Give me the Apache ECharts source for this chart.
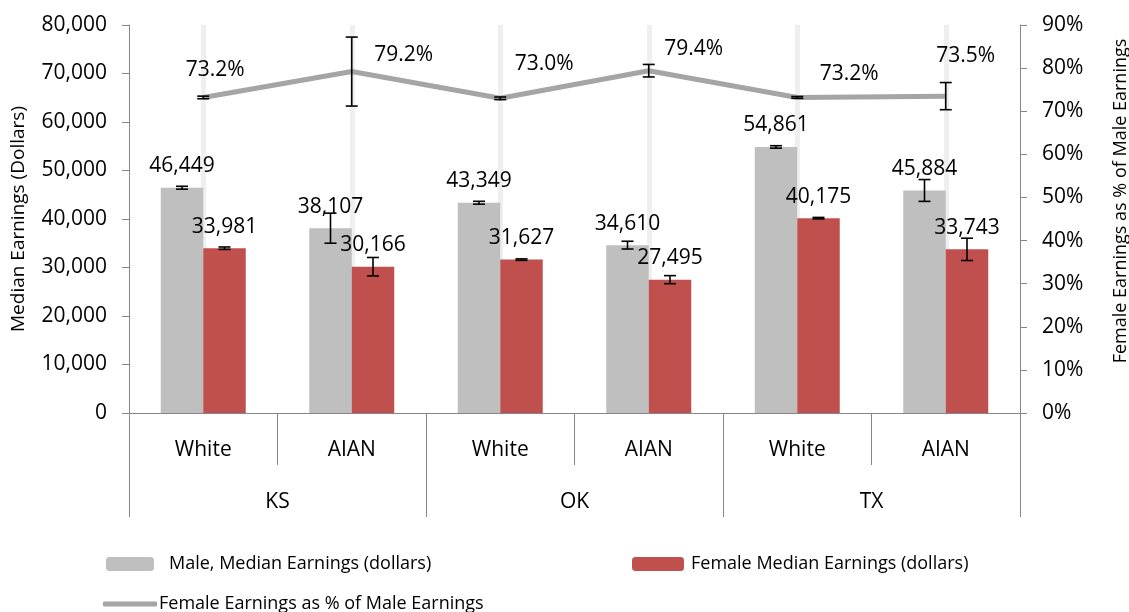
<!DOCTYPE html>
<html>
<head>
<meta charset="utf-8">
<script src="https://cdn.jsdelivr.net/npm/echarts@6/dist/echarts.min.js"></script>
<style>
  html, body { margin: 0; padding: 0; background: #fff; }
  #main { width: 1129px; height: 612px; }
</style>
</head>
<body>
<div id="main"></div>
<script>
const states = ['KS', 'OK', 'TX'];
const groups = ['White', 'AIAN', 'White', 'AIAN', 'White', 'AIAN'];
const maleEarnings = [46449, 38107, 43349, 34610, 54861, 45884];
const maleErr = [300, 3100, 300, 800, 250, 2250];
const femaleEarnings = [33981, 30166, 31627, 27495, 40175, 33743];
const femaleErr = [250, 1900, 150, 830, 150, 2300];
const ratioPct = [73.2, 79.2, 73.0, 79.4, 73.2, 73.5];
const ratioErr = [0.3, 8.0, 0.3, 1.45, 0.2, 3.15];

// label placement for the % labels (pixels from the point)
const ratioLabelOffset = [[12, -27], [52, -17], [44, -34], [45, -22], [52, -23], [20, -40]];

const FONT = 'Open Sans';
const BAR_W = 42.5;
const axisGrey = '#868686';

const fmt = v => v.toLocaleString('en-US');

function errData(vals, errs) {
  return vals.map((v, i) => [i, v - errs[i], v + errs[i]]);
}

function errRender(shift) {
  return function (params, api) {
    const lo = api.coord([api.value(0), api.value(1)]);
    const hi = api.coord([api.value(0), api.value(2)]);
    const x = lo[0] + shift;
    const cap = 6;
    const style = { stroke: '#000', lineWidth: 1.6 };
    return {
      type: 'group',
      children: [
        { type: 'line', shape: { x1: x, y1: lo[1], x2: x, y2: hi[1] }, style },
        { type: 'line', shape: { x1: x - cap, y1: lo[1], x2: x + cap, y2: lo[1] }, style },
        { type: 'line', shape: { x1: x - cap, y1: hi[1], x2: x + cap, y2: hi[1] }, style }
      ]
    };
  };
}

const chart = echarts.init(document.getElementById('main'));

const option = {
  animation: false,
  textStyle: { fontFamily: FONT, color: '#000' },
  grid: { left: 129, right: 109, top: 25, bottom: 199, containLabel: false, outerBoundsMode: 'none' },
  legend: [
    {
      data: ['Male, Median Earnings (dollars)'],
      left: 106, top: 555, padding: 0,
      itemWidth: 48, itemHeight: 14,
      textStyle: { fontFamily: FONT, fontSize: 18, color: '#000', padding: [0, 0, 0, 10] }
    },
    {
      data: ['Female Median Earnings (dollars)'],
      left: 632, top: 555, padding: 0,
      itemWidth: 52, itemHeight: 14,
      textStyle: { fontFamily: FONT, fontSize: 18, color: '#000', padding: [0, 0, 0, 2] }
    },
    {
      data: [{ name: 'Female Earnings as % of Male Earnings', icon: 'roundRect' }],
      left: 103, top: 595, padding: 0,
      itemWidth: 54, itemHeight: 5,
      textStyle: { fontFamily: FONT, fontSize: 18, color: '#000', padding: [0, 0, 0, -3] }
    }
  ],
  xAxis: [
    {
      type: 'category',
      data: groups,
      axisLine: { show: true, lineStyle: { color: axisGrey } },
      axisTick: { show: true, length: 52, interval: 0, lineStyle: { color: axisGrey } },
      axisLabel: { fontFamily: FONT, fontSize: 21, color: '#000', margin: 27, interval: 0 }
    },
    {
      type: 'category',
      data: states,
      position: 'bottom',
      axisLine: { show: false },
      axisTick: { show: true, length: 104, interval: 0, lineStyle: { color: axisGrey } },
      axisLabel: { fontFamily: FONT, fontSize: 21, color: '#000', margin: 79, interval: 0 }
    }
  ],
  yAxis: [
    {
      type: 'value',
      min: 0, max: 80000, interval: 10000,
      name: 'Median Earnings (Dollars)',
      nameLocation: 'middle',
      nameGap: 101,
      nameTextStyle: { fontFamily: FONT, fontSize: 19, color: '#000' },
      axisLine: { show: true, lineStyle: { color: axisGrey } },
      axisTick: { show: true, length: 7, lineStyle: { color: axisGrey } },
      axisLabel: { fontFamily: FONT, fontSize: 21, color: '#000', margin: 22, formatter: v => fmt(v) },
      splitLine: { show: false }
    },
    {
      type: 'value',
      position: 'right',
      min: 0, max: 90, interval: 10,
      name: 'Female Earnings as % of Male Earnings',
      nameLocation: 'middle',
      nameRotate: 90,
      nameGap: 92,
      nameTextStyle: { fontFamily: FONT, fontSize: 18, color: '#000', padding: [0, 0, 0, 36] },
      axisLine: { show: true, lineStyle: { color: axisGrey } },
      axisTick: { show: true, length: 7, lineStyle: { color: axisGrey } },
      axisLabel: { fontFamily: FONT, fontSize: 21, color: '#000', margin: 22, formatter: '{value}%' },
      splitLine: { show: false }
    }
  ],
  series: [
    {
      // light vertical guides at each category centre
      type: 'line',
      data: [],
      z: 0,
      silent: true,
      markLine: {
        z: 0,
        silent: true,
        symbol: 'none',
        label: { show: false },
        lineStyle: { color: '#efefef', width: 5, type: 'solid' },
        data: groups.map((g, i) => ({ xAxis: i }))
      }
    },
    {
      name: 'Male, Median Earnings (dollars)',
      type: 'bar',
      data: maleEarnings,
      barWidth: BAR_W,
      barGap: 0,
      itemStyle: { color: '#bfbfbf' },
      label: {
        show: true, position: 'top', distance: 11,
        fontFamily: FONT, fontSize: 21, color: '#000',
        formatter: p => fmt(p.value)
      },
      z: 2
    },
    {
      name: 'Female Median Earnings (dollars)',
      type: 'bar',
      data: femaleEarnings,
      barWidth: BAR_W,
      barGap: 0,
      itemStyle: { color: '#c0504d' },
      label: {
        show: true, position: 'top', distance: 11,
        fontFamily: FONT, fontSize: 21, color: '#000',
        formatter: p => fmt(p.value)
      },
      z: 2
    },
    {
      name: 'Female Earnings as % of Male Earnings',
      type: 'line',
      yAxisIndex: 1,
      data: ratioPct.map((v, i) => ({
        value: v,
        label: { offset: ratioLabelOffset[i] }
      })),
      symbol: 'circle',
      symbolSize: 1,
      lineStyle: { color: '#a5a5a5', width: 5 },
      itemStyle: { color: '#a5a5a5' },
      label: {
        show: true, position: 'inside',
        fontFamily: FONT, fontSize: 21, color: '#000',
        formatter: p => p.value.toFixed(1) + '%'
      },
      z: 3
    },
    {
      type: 'custom',
      data: errData(maleEarnings, maleErr),
      renderItem: errRender(-BAR_W / 2),
      encode: { x: 0, y: [1, 2] },
      silent: true,
      z: 4
    },
    {
      type: 'custom',
      data: errData(femaleEarnings, femaleErr),
      renderItem: errRender(BAR_W / 2),
      encode: { x: 0, y: [1, 2] },
      silent: true,
      z: 4
    },
    {
      type: 'custom',
      yAxisIndex: 1,
      data: errData(ratioPct, ratioErr),
      renderItem: errRender(0),
      encode: { x: 0, y: [1, 2] },
      silent: true,
      z: 4
    }
  ]
};

chart.setOption(option);
</script>
</body>
</html>
